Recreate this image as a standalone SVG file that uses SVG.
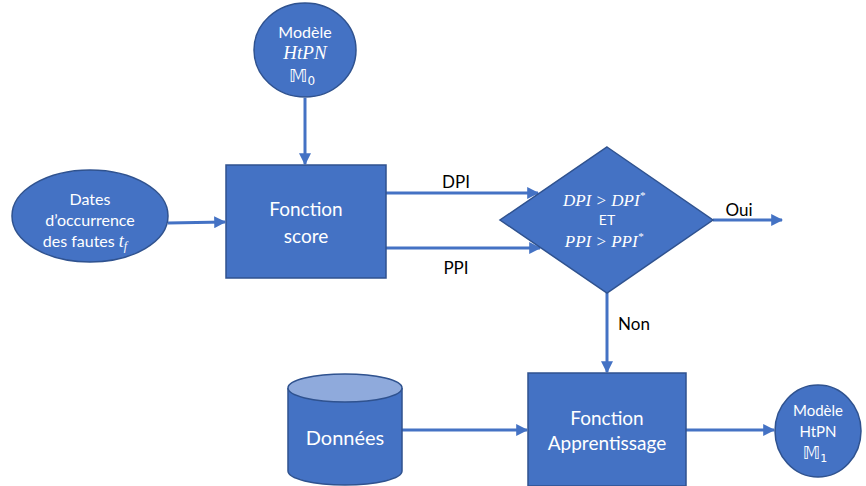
<svg xmlns="http://www.w3.org/2000/svg" width="866" height="486" viewBox="0 0 866 486">
<style>
.node{fill:#4472C4;stroke:#2F528F;stroke-width:1.5}
.wt{fill:#fff;font-family:Lato,"Open Sans","Liberation Sans",sans-serif;text-anchor:middle}
.mt{fill:#fff;font-family:"Liberation Serif","DejaVu Serif",serif;font-style:italic;text-anchor:middle}
.ds{fill:#fff;font-family:"DejaVu Sans","DejaVu Serif","Noto Sans",sans-serif;text-anchor:middle}
.lbl{fill:#000;font-family:Lato,"Open Sans","Liberation Sans",sans-serif;font-size:17px;text-anchor:middle}
.conn{stroke:#4472C4;stroke-width:3;fill:none;marker-end:url(#ah)}
</style>
<defs>
<marker id="ah" viewBox="0 0 10 10" refX="9" refY="5" markerWidth="4" markerHeight="4" orient="auto" markerUnits="strokeWidth">
<path d="M0,0 L10,5 L0,10 z" fill="#4472C4"/>
</marker>
</defs>
<rect width="866" height="486" fill="#fff"/>
<g id="connectors">
<line class="conn" x1="305" y1="98" x2="305" y2="164"/>
<line class="conn" x1="168" y1="223" x2="225" y2="222"/>
<line class="conn" x1="386" y1="193" x2="538" y2="193"/>
<line class="conn" x1="386" y1="248" x2="540" y2="248"/>
<line class="conn" x1="713" y1="220" x2="782" y2="220"/>
<line class="conn" x1="607" y1="293" x2="607" y2="372"/>
<line class="conn" x1="402" y1="430" x2="527" y2="430"/>
<line class="conn" x1="686" y1="430" x2="774" y2="430"/>
<text class="lbl" x="456" y="188">DPI</text>
<text class="lbl" x="456" y="274">PPI</text>
<text class="lbl" x="739" y="216">Oui</text>
<text class="lbl" x="634" y="330">Non</text>
</g>
<g id="modele0">
<ellipse class="node" cx="305" cy="50" rx="51" ry="47"/>
<text class="wt" x="305" y="38" font-size="16">Modèle</text>
<text class="mt" x="305" y="59" font-size="19">HtPN</text>
<text class="ds" x="302" y="82" font-size="18">𝕄<tspan font-size="12" dy="3">0</tspan></text>
</g>
<g id="dates">
<ellipse class="node" cx="90" cy="216" rx="78" ry="46"/>
<text class="wt" x="90" y="205" font-size="16">Dates</text>
<text class="wt" x="90" y="226" font-size="16">d’occurrence</text>
<text class="wt" x="85" y="247" font-size="16">des fautes <tspan class="mt" font-size="18">t</tspan><tspan class="mt" font-size="12" dy="3">f</tspan></text>
</g>
<g id="score">
<rect class="node" x="226" y="165" width="160" height="113"/>
<text class="wt" x="306" y="216" font-size="19">Fonction</text>
<text class="wt" x="306" y="243" font-size="19">score</text>
</g>
<g id="decision">
<polygon class="node" points="607,147 713,220 607,293 500,220"/>
<text class="mt" x="604" y="206" font-size="17">DPI &gt; DPI<tspan font-size="11" dy="-7">*</tspan></text>
<text class="wt" x="607" y="225" font-size="14">ET</text>
<text class="mt" x="604" y="247" font-size="17">PPI &gt; PPI<tspan font-size="11" dy="-7">*</tspan></text>
</g>
<g id="donnees">
<path class="node" d="M288,388 L288,471 A57,14 0 0 0 402,471 L402,388"/>
<ellipse cx="345" cy="388" rx="57" ry="14" fill="#8FAADC" stroke="#2F528F" stroke-width="1.5"/>
<text class="wt" x="345" y="445" font-size="20">Données</text>
</g>
<g id="apprentissage">
<rect class="node" x="528" y="373" width="158" height="113"/>
<text class="wt" x="607" y="425" font-size="19">Fonction</text>
<text class="wt" x="607" y="450" font-size="19">Apprentissage</text>
</g>
<g id="modele1">
<ellipse class="node" cx="818" cy="431" rx="43" ry="46"/>
<text class="wt" x="818" y="416" font-size="15">Modèle</text>
<text class="wt" x="818" y="437" font-size="15">HtPN</text>
<text class="ds" x="815" y="459" font-size="17">𝕄<tspan font-size="11" dy="3">1</tspan></text>
</g>
</svg>
